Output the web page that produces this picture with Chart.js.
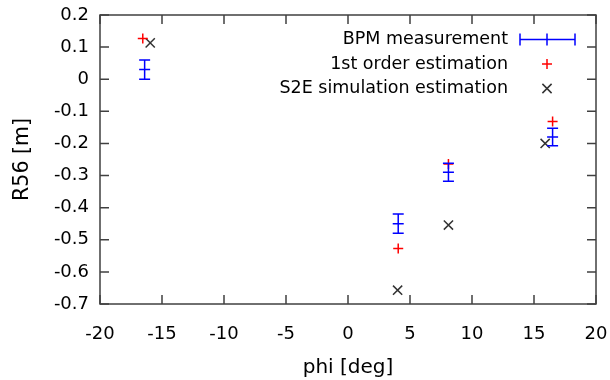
<!DOCTYPE html>
<html>
<head>
<meta charset="utf-8">
<script src="https://cdn.jsdelivr.net/npm/chart.js@4/dist/chart.umd.min.js"></script>
<style>
  html, body { margin: 0; padding: 0; background: #fff; }
  #wrap { width: 610px; height: 380px; }
</style>
</head>
<body>
<div id="wrap"><canvas id="r56Chart"></canvas></div>
<script>
'use strict';

// values
const bpmPhi = [-16.4, 4.05, 8.1, 16.5];
const bpmR56 = [0.03, -0.45, -0.29, -0.18];
const bpmErr = [0.03, 0.03, 0.028, 0.027];

const firstPhi = [-16.55, 4.05, 8.1, 16.5];
const firstR56 = [0.127, -0.527, -0.264, -0.132];

const s2ePhi = [-15.95, 4.0, 8.1, 15.9];
const s2eR56 = [0.113, -0.657, -0.454, -0.2];

const xTicks = [-20, -15, -10, -5, 0, 5, 10, 15, 20];
const yTicks = [0.2, 0.1, 0, -0.1, -0.2, -0.3, -0.4, -0.5, -0.6, -0.7];

const labels = ['BPM measurement', '1st order estimation', 'S2E simulation estimation'];

const FONT = 'DejaVu Sans';
const BLUE = '#0000ff';
const RED = '#ff0000';
const BLACK = '#333333';

function pts(xs, ys) {
    return xs.map((x, i) => ({ x: x, y: ys[i] }));
}

function fmt(v) {
    const r = Math.round(v * 10) / 10;
    return r === 0 ? '0' : String(r);
}

// gnuplot-like frame, inward ticks, error bars and legend
const gnuplotLook = {
    id: 'gnuplotLook',
    afterDatasetsDraw(chart) {
        const { ctx, chartArea: a, scales } = chart;
        const xs = scales.x, ys = scales.y;
        const tl = 9;

        ctx.save();
        ctx.strokeStyle = '#404040';
        ctx.lineWidth = 1.5;
        ctx.strokeRect(a.left, a.top, a.right - a.left, a.bottom - a.top);
        ctx.beginPath();
        xTicks.forEach(v => {
            const px = xs.getPixelForValue(v);
            ctx.moveTo(px, a.bottom); ctx.lineTo(px, a.bottom - tl);
            ctx.moveTo(px, a.top); ctx.lineTo(px, a.top + tl);
        });
        yTicks.forEach(v => {
            const py = ys.getPixelForValue(v);
            ctx.moveTo(a.left, py); ctx.lineTo(a.left + tl, py);
            ctx.moveTo(a.right, py); ctx.lineTo(a.right - tl, py);
        });
        ctx.stroke();

        // blue error bars
        ctx.strokeStyle = BLUE;
        ctx.lineWidth = 1.5;
        const cap = 5.5;
        ctx.beginPath();
        bpmPhi.forEach((x, i) => {
            const px = xs.getPixelForValue(x);
            const py = ys.getPixelForValue(bpmR56[i]);
            const top = ys.getPixelForValue(bpmR56[i] + bpmErr[i]);
            const bot = ys.getPixelForValue(bpmR56[i] - bpmErr[i]);
            ctx.moveTo(px, top); ctx.lineTo(px, bot);
            ctx.moveTo(px - cap, top); ctx.lineTo(px + cap, top);
            ctx.moveTo(px - cap, bot); ctx.lineTo(px + cap, bot);
            ctx.moveTo(px - cap, py); ctx.lineTo(px + cap, py);
        });
        ctx.stroke();

        // legend, text right aligned with the sample on the right
        const textRight = 508, sampleX = 547, y0 = 39.5, gap = 24.5;
        ctx.font = '17.5px "' + FONT + '"';
        ctx.fillStyle = '#000';
        ctx.textAlign = 'right';
        ctx.textBaseline = 'middle';
        labels.forEach((t, i) => ctx.fillText(t, textRight, y0 + i * gap));

        ctx.strokeStyle = BLUE;
        ctx.beginPath();
        ctx.moveTo(520, y0); ctx.lineTo(575, y0);
        ctx.moveTo(520, y0 - 6); ctx.lineTo(520, y0 + 6);
        ctx.moveTo(575, y0 - 6); ctx.lineTo(575, y0 + 6);
        ctx.moveTo(sampleX, y0 - 6); ctx.lineTo(sampleX, y0 + 6);
        ctx.stroke();
        ctx.strokeStyle = RED;
        ctx.beginPath();
        ctx.moveTo(sampleX - 5, y0 + gap); ctx.lineTo(sampleX + 5, y0 + gap);
        ctx.moveTo(sampleX, y0 + gap - 5); ctx.lineTo(sampleX, y0 + gap + 5);
        ctx.stroke();
        ctx.strokeStyle = BLACK;
        ctx.beginPath();
        const d = 4.6, ly = y0 + 2 * gap;
        ctx.moveTo(sampleX - d, ly - d); ctx.lineTo(sampleX + d, ly + d);
        ctx.moveTo(sampleX - d, ly + d); ctx.lineTo(sampleX + d, ly - d);
        ctx.stroke();
        ctx.restore();
    }
};

new Chart(document.getElementById('r56Chart'), {
    type: 'scatter',
    data: {
        datasets: [
            {
                label: labels[0],
                data: pts(bpmPhi, bpmR56),
                pointRadius: 0,
                borderColor: BLUE,
                backgroundColor: BLUE
            },
            {
                label: labels[1],
                data: pts(firstPhi, firstR56),
                pointStyle: 'cross',
                pointRadius: 5,
                pointBorderWidth: 1.5,
                borderColor: RED,
                backgroundColor: RED
            },
            {
                label: labels[2],
                data: pts(s2ePhi, s2eR56),
                pointStyle: 'crossRot',
                pointRadius: 6.5,
                pointBorderWidth: 1.5,
                borderColor: BLACK,
                backgroundColor: BLACK
            }
        ]
    },
    options: {
        responsive: true,
        maintainAspectRatio: false,
        animation: false,
        events: [],
        layout: { padding: { top: 15, right: 14, left: 0, bottom: 0 } },
        plugins: {
            legend: { display: false },
            tooltip: { enabled: false }
        },
        scales: {
            x: {
                type: 'linear',
                min: -20,
                max: 20,
                afterBuildTicks: s => { s.ticks = xTicks.map(v => ({ value: v })); },
                afterFit: s => {
                    s.height = 76;
                    s.paddingLeft = 0; s.paddingRight = 0;
                },
                grid: { display: false, drawTicks: false },
                border: { display: false },
                ticks: {
                    padding: 20,
                    color: '#000',
                    font: { family: FONT, size: 18 },
                    maxRotation: 0,
                    callback: v => String(v)
                },
                title: {
                    display: true,
                    text: 'phi [deg]',
                    color: '#000',
                    font: { family: FONT, size: 20 },
                    padding: { top: 0, bottom: 0 }
                }
            },
            y: {
                type: 'linear',
                min: -0.7,
                max: 0.2,
                afterBuildTicks: s => { s.ticks = yTicks.map(v => ({ value: v })); },
                afterFit: s => {
                    s.width = 100;
                    s.paddingTop = 0; s.paddingBottom = 0;
                },
                grid: { display: false, drawTicks: false },
                border: { display: false },
                ticks: {
                    padding: 11,
                    color: '#000',
                    font: { family: FONT, size: 18 },
                    callback: v => fmt(v)
                },
                title: {
                    display: true,
                    text: 'R56 [m]',
                    color: '#000',
                    font: { family: FONT, size: 20.5 },
                    padding: { top: 10, bottom: 0 }
                }
            }
        }
    },
    plugins: [gnuplotLook]
});
</script>
</body>
</html>
